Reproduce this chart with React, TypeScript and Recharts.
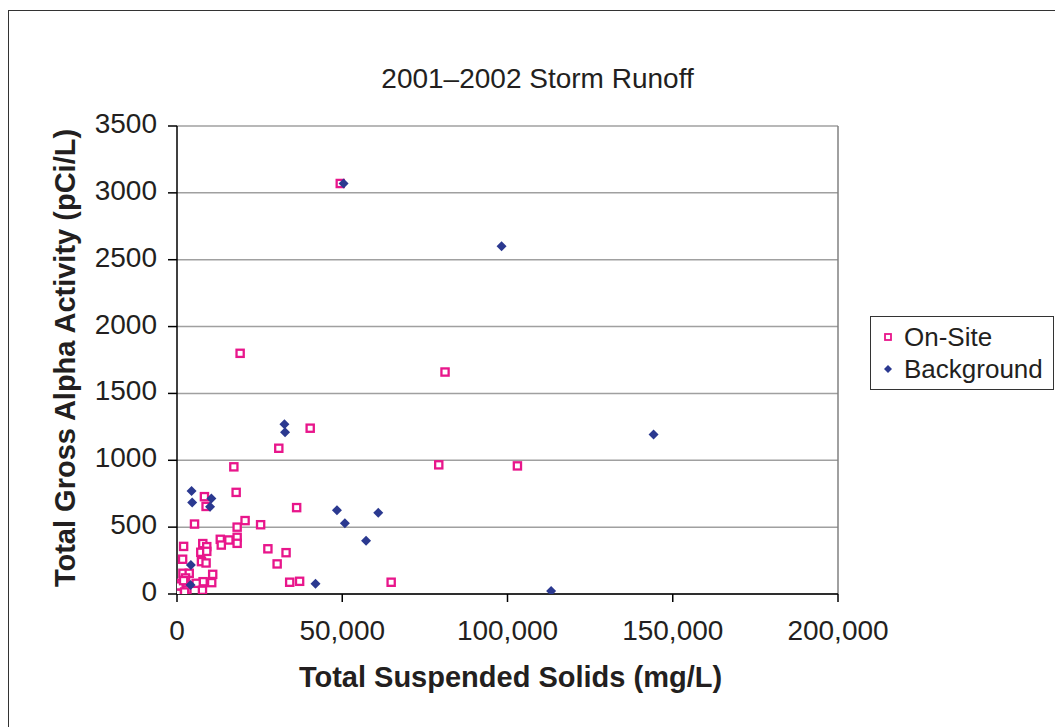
import React from 'react';
import {
  ScatterChart,
  Scatter,
  XAxis,
  YAxis,
  CartesianGrid,
  Legend,
  ReferenceLine,
  Label,
} from 'recharts';

// Total suspended solids (mg/L) and total gross alpha (pCi/L)
const tssOnSite = [
  49400, 19100, 81100, 40300, 30800, 79200, 103000, 17200, 17900, 8300,
  8800, 36200, 20600, 5300, 25300, 18200, 18200, 13100, 15700, 18200,
  7800, 13400, 2000, 9000, 27500, 7200, 9000, 33000, 1700, 7400,
  8800, 30300, 1800, 3700, 10800, 2600, 37100, 34100, 64800, 10500,
  7900, 5800, 7700, 1200, 2500, 800, 300, 1500, 3000, 600,
  2000, 100, 2300,
];
const alphaOnSite = [
  3070, 1800, 1660, 1240, 1090, 966, 958, 951, 760, 728,
  655, 646, 549, 523, 518, 500, 424, 409, 404, 379,
  377, 366, 356, 354, 338, 312, 319, 309, 260, 242,
  232, 225, 155, 155, 147, 120, 95, 88, 88, 85,
  92, 80, 28, 80, 60, 40, 10, 20, 30, 60,
  100, 5, 15,
];

const tssBackground = [
  50400, 98200, 144200, 32500, 32700, 4400, 4600, 10400, 10000, 48400,
  60900, 50800, 57200, 4200, 41900, 4100, 113200,
];
const alphaBackground = [
  3070, 2600, 1192, 1270, 1210, 771, 685, 714, 652, 627,
  607, 530, 399, 216, 77, 67, 22,
];

const xTicks = [0, 50000, 100000, 150000, 200000];
const yTicks = [0, 500, 1000, 1500, 2000, 2500, 3000, 3500];

const onSite = tssOnSite.map((x, i) => ({ x, y: alphaOnSite[i] }));
const background = tssBackground.map((x, i) => ({ x, y: alphaBackground[i] }));

const PINK = '#e8168b';
const NAVY = '#2b3990';
const FONT = 'Arial, "Liberation Sans", sans-serif';

const HollowSquare = (props: any) => {
  const { cx, cy } = props;
  if (cx == null || cy == null) return null;
  return (
    <rect x={cx - 3.6} y={cy - 3.6} width={7.2} height={7.2} fill="#fff" stroke={PINK} strokeWidth={2.3} />
  );
};

const Diamond = (props: any) => {
  const { cx, cy } = props;
  if (cx == null || cy == null) return null;
  const r = 5;
  return <path d={`M${cx},${cy - r}L${cx + r},${cy}L${cx},${cy + r}L${cx - r},${cy}Z`} fill={NAVY} />;
};

const renderLegend = () => (
  <div
    style={{
      border: '1.5px solid #333',
      background: '#fff',
      width: 184,
      height: 74,
      boxSizing: 'border-box',
      fontFamily: FONT,
      fontSize: 26,
      color: '#231f20',
      paddingTop: 4,
    }}
  >
    <div style={{ display: 'flex', alignItems: 'center', height: 32 }}>
      <svg width={33} height={20}>
        <rect x={14} y={7} width={6} height={6} fill="#fff" stroke={PINK} strokeWidth={1.8} />
      </svg>
      <span>On-Site</span>
    </div>
    <div style={{ display: 'flex', alignItems: 'center', height: 32 }}>
      <svg width={33} height={20}>
        <path d="M17,6L21,10L17,14L13,10Z" fill={NAVY} />
      </svg>
      <span>Background</span>
    </div>
  </div>
);

export default function App() {
  return (
    <div
      style={{
        position: 'absolute',
        left: 0,
        top: 0,
        width: 1055,
        height: 727,
        overflow: 'hidden',
        background: '#fff',
        fontFamily: FONT,
      }}
    >
      <div
        style={{
          position: 'absolute',
          left: 8,
          top: 10,
          width: 1200,
          height: 900,
          border: '1.5px solid #333',
        }}
      />
      <div
        style={{
          position: 'absolute',
          left: 0,
          width: 1075,
          top: 65,
          textAlign: 'center',
          fontSize: 28,
          lineHeight: '28px',
          color: '#231f20',
        }}
      >
        2001–2002 Storm Runoff
      </div>
      <div style={{ position: 'absolute', left: 0, top: 0 }}>
        <ScatterChart
          width={1055}
          height={727}
          margin={{ top: 126, right: 217, bottom: 0, left: 0 }}
        >
          <CartesianGrid vertical={false} stroke="#a0a0a0" strokeWidth={1.5} />
          <ReferenceLine x={200000} stroke="#808080" strokeWidth={1.5} />
          <XAxis
            type="number"
            dataKey="x"
            domain={[0, 200000]}
            ticks={xTicks}
            tickFormatter={(v: number) => v.toLocaleString('en-US')}
            height={133}
            stroke="#000"
            strokeWidth={1.5}
            tickSize={8}
            tickMargin={18}
            tick={{ fill: '#231f20', fontSize: 28, fontFamily: FONT }}
            allowDataOverflow
          >
            <Label
              content={(p: any) => {
                const vb = p.viewBox || {};
                return (
                  <text
                    x={vb.x + vb.width / 2 + 3}
                    y={vb.y + 93}
                    textAnchor="middle"
                    fontSize={29}
                    fontWeight="bold"
                    fontFamily={FONT}
                    fill="#231f20"
                  >
                    Total Suspended Solids (mg/L)
                  </text>
                );
              }}
            />
          </XAxis>
          <YAxis
            type="number"
            dataKey="y"
            domain={[0, 3500]}
            ticks={yTicks}
            width={177}
            stroke="#000"
            strokeWidth={1.5}
            tickSize={9}
            tickMargin={11}
            tick={{ fill: '#231f20', fontSize: 28, fontFamily: FONT, dy: -3 }}
            allowDataOverflow
          >
            <Label
              content={(p: any) => {
                const vb = p.viewBox || {};
                const cx = 75;
                const cy = vb.y + vb.height / 2 - 2;
                return (
                  <text
                    x={cx}
                    y={cy}
                    transform={`rotate(-90, ${cx}, ${cy})`}
                    textAnchor="middle"
                    fontSize={29}
                    fontWeight="bold"
                    fontFamily={FONT}
                    fill="#231f20"
                  >
                    Total Gross Alpha Activity (pCi/L)
                  </text>
                );
              }}
            />
          </YAxis>
          <Legend
            layout="vertical"
            align="center"
            verticalAlign="middle"
            content={renderLegend}
            wrapperStyle={{ position: 'absolute', left: 870, top: 316, width: 184, height: 76 }}
          />
          <Scatter name="On-Site" data={onSite} shape={HollowSquare} isAnimationActive={false} />
          <Scatter name="Background" data={background} shape={Diamond} isAnimationActive={false} />
        </ScatterChart>
      </div>
    </div>
  );
}
